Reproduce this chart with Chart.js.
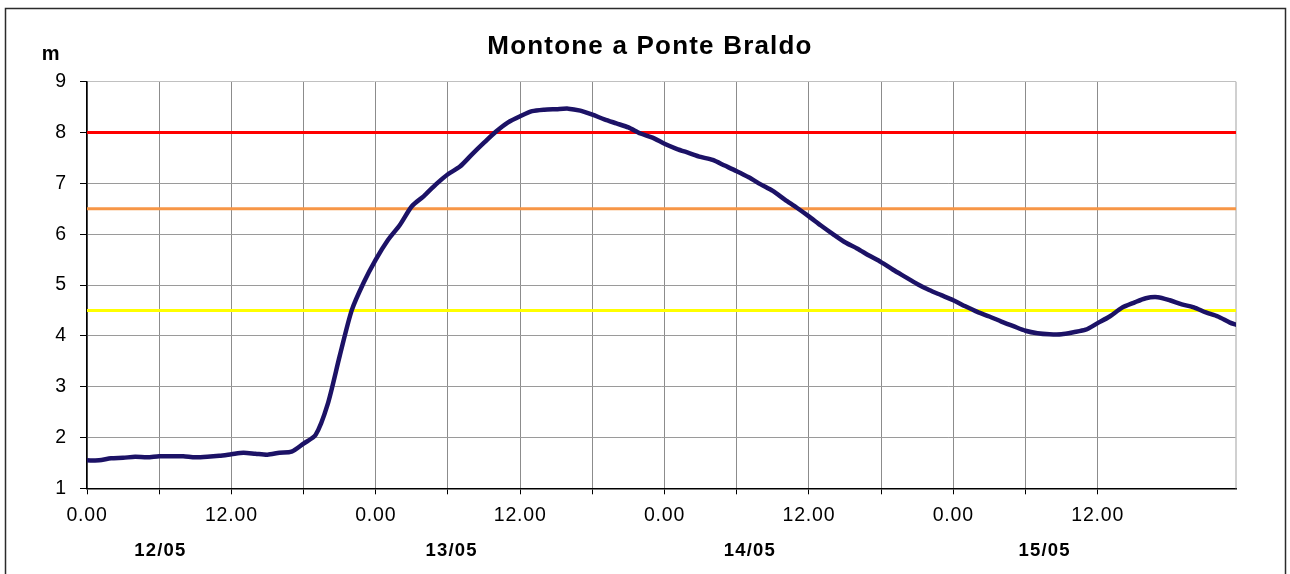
<!DOCTYPE html>
<html>
<head>
<meta charset="utf-8">
<script src="https://cdn.jsdelivr.net/npm/chart.js@4.4.1/dist/chart.umd.min.js"></script>
<style>
  html, body { margin: 0; padding: 0; background: #fff; }
  #wrap { width: 1290px; height: 574px; position: relative; overflow: hidden; }
</style>
</head>
<body>
<div id="wrap"><canvas id="c" width="1290" height="574"></canvas></div>
<script>
const chartTitle = 'Montone a Ponte Braldo';
const unitLabel = 'm';

// Hours since 12/05 00:00 (hourly readings, last one at 23:30 on 15/05)
const hours = Array.from({ length: 96 }, (_, i) => i).concat([95.5]);

// Water level (m)
const levels = [
  1.55, 1.55, 1.59, 1.60, 1.62, 1.61, 1.63, 1.63, 1.63, 1.61, 1.62, 1.64,
  1.67, 1.70, 1.68, 1.66, 1.70, 1.72, 1.88, 2.05, 2.65, 3.60, 4.50, 5.05,
  5.50, 5.88, 6.18, 6.55, 6.75, 6.98, 7.18, 7.33, 7.57, 7.80, 8.02, 8.20,
  8.32, 8.42, 8.45, 8.46, 8.47, 8.43, 8.35, 8.26, 8.18, 8.10, 7.98, 7.90,
  7.78, 7.68, 7.60, 7.52, 7.46, 7.35, 7.24, 7.12, 6.98, 6.85, 6.68, 6.52,
  6.35, 6.17, 6.00, 5.84, 5.72, 5.58, 5.45, 5.30, 5.16, 5.02, 4.90, 4.80,
  4.70, 4.58, 4.47, 4.38, 4.28, 4.19, 4.10, 4.05, 4.03, 4.03, 4.07, 4.12,
  4.25, 4.38, 4.55, 4.65, 4.74, 4.76, 4.70, 4.62, 4.56, 4.46, 4.38, 4.26,
  4.22
];

// Alert thresholds (m)
const thresholdLevels = [8, 6.5, 4.5];
const thresholdColors = ['#ff0000', '#f79646', '#ffff00'];

// Day captions under the time axis
const dayLabels = ['12/05', '13/05', '14/05', '15/05'];
const dayLabelHours = [6.1, 30.3, 55.1, 79.6];

const xMin = hours[0];
const xMax = hours[hours.length - 1];
const FONT = '"Liberation Sans", Arial, sans-serif';

const datasets = [{
  label: 'Livello',
  data: hours.map((h, i) => ({ x: h, y: levels[i] })),
  borderColor: '#1c1266',
  borderWidth: 4.5,
  pointRadius: 0,
  tension: 0.25,
  borderCapStyle: 'round',
  borderJoinStyle: 'round'
}];
thresholdLevels.forEach((v, i) => {
  datasets.push({
    label: 'Soglia ' + v,
    data: [{ x: xMin, y: v }, { x: xMax, y: v }],
    borderColor: thresholdColors[i],
    borderWidth: 3,
    pointRadius: 0
  });
});

const decorations = {
  id: 'decorations',
  beforeDraw(chart) {
    const ctx = chart.ctx;
    ctx.save();
    ctx.fillStyle = '#ffffff';
    ctx.fillRect(0, 0, chart.width, chart.height);
    ctx.strokeStyle = '#2b2b2b';
    ctx.lineWidth = 1.5;
    ctx.strokeRect(5.5, 8.5, 1280, 620);
    ctx.restore();
    ctx.letterSpacing = '0.8px';
  },
  beforeDatasetsDraw(chart) {
    const { ctx, chartArea: a } = chart;
    ctx.save();
    ctx.strokeStyle = '#c0c0c0';
    ctx.lineWidth = 1.5;
    ctx.beginPath();
    ctx.moveTo(a.right, a.top);
    ctx.lineTo(a.right, a.bottom);
    ctx.stroke();
    ctx.restore();
  },
  afterDraw(chart) {
    const ctx = chart.ctx;
    const xs = chart.scales.x;
    ctx.save();
    ctx.fillStyle = '#000';
    ctx.textAlign = 'center';
    ctx.textBaseline = 'alphabetic';
    ctx.letterSpacing = '1.2px';
    ctx.font = 'bold 26px ' + FONT;
    ctx.fillText(chartTitle, 650, 54);
    ctx.letterSpacing = '0.5px';
    ctx.font = 'bold 20px ' + FONT;
    ctx.fillText(unitLabel, 51, 60);
    ctx.letterSpacing = '1.2px';
    ctx.font = 'bold 18.5px ' + FONT;
    ctx.textBaseline = 'middle';
    dayLabels.forEach((t, i) => {
      ctx.fillText(t, xs.getPixelForValue(dayLabelHours[i]), 551);
    });
    ctx.restore();
  }
};

new Chart(document.getElementById('c'), {
  type: 'line',
  data: { datasets },
  options: {
    responsive: false,
    animation: false,
    devicePixelRatio: 1,
    layout: { padding: { left: 0, right: 54, top: 81.7, bottom: 0 } },
    plugins: {
      legend: { display: false },
      title: { display: false },
      tooltip: { enabled: false }
    },
    scales: {
      x: {
        type: 'linear',
        min: xMin,
        max: xMax,
        afterFit(s) { s.height = 85.7; },
        afterBuildTicks(s) { s.ticks = s.ticks.filter(t => t.value % 6 === 0); },
        border: { color: '#000', width: 1.5 },
        grid: { color: '#8c8c8c', lineWidth: 1, tickColor: '#000', tickLength: 6 },
        ticks: {
          stepSize: 6,
          autoSkip: false,
          maxRotation: 0,
          padding: 10,
          color: '#000',
          font: { family: FONT, size: 19.5 },
          callback: v => (v % 24 === 0 ? '0.00' : (v % 24 === 12 ? '12.00' : ''))
        }
      },
      y: {
        min: 1,
        max: 9,
        afterFit(s) { s.width = 87; },
        border: { color: '#000', width: 1.5 },
        grid: {
          color: c => (c.tick && c.tick.value === 9 ? '#c0c0c0' : '#9a9a9a'),
          lineWidth: 1,
          tickColor: '#000',
          tickLength: 7
        },
        ticks: {
          stepSize: 1,
          padding: 13,
          color: '#000',
          font: { family: FONT, size: 19.5 }
        }
      }
    }
  },
  plugins: [decorations]
});
</script>
</body>
</html>
